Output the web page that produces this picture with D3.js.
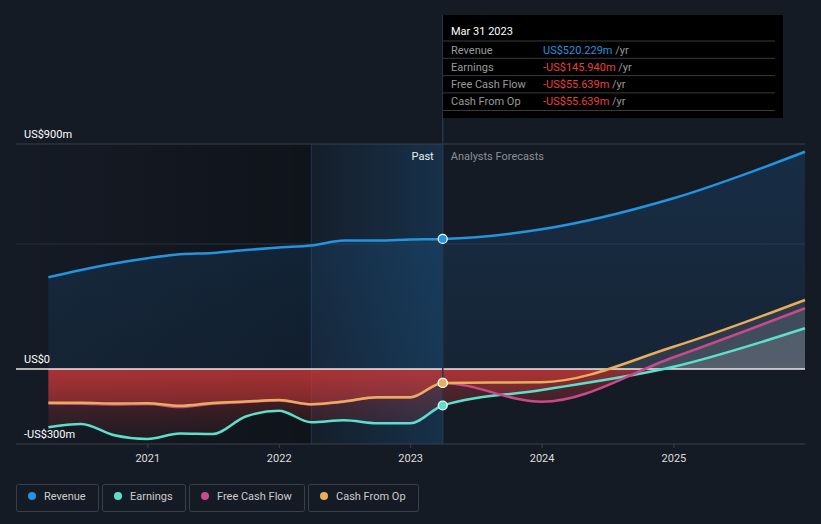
<!DOCTYPE html>
<html>
<head>
<meta charset="utf-8">
<script src="https://cdn.jsdelivr.net/npm/d3@7"></script>
<style>
  body { margin: 0; background: #151b25; }
  svg { display: block; font-family: Roboto, "Open Sans", sans-serif; }
</style>
</head>
<body>
<svg id="chart" width="821" height="524"></svg>
<script>
// quarterly past values, then analyst forecasts (US$ m)
var pastDates = ["2020-03-31","2020-06-30","2020-09-30","2020-12-31","2021-03-31","2021-06-30","2021-09-30",
                 "2021-12-31","2022-03-31","2022-06-30","2022-09-30","2022-12-31","2023-03-31"];
var revenuePast  = [367, 396, 422, 443, 459, 464, 476, 486, 494, 514, 514, 518, 520.229];
var earningsPast = [-233, -220, -265, -280, -258, -260, -190, -167, -213, -205, -217, -217, -145.94];
var fcfPast      = [-138, -139, -142, -140, -152, -139, -132, -126, -142, -131, -114, -114, -55.639];
var cfoPast      = [-135, -135, -138, -137, -147, -136, -130, -124, -141, -130, -113, -113, -55.639];

var fcDates      = ["2023-12-31","2024-12-31","2025-12-31"];
var revenueFc    = [559, 683, 869];
var earningsFc   = [-84, 9, 163];
var fcfFc        = [-131, 47, 243];
var cfoFc        = [-53, 89, 276];

var yTicks = [900, 0, -300];
var yTickLabels = ["US$900m", "US$0", "-US$300m"];
var xTickYears = [2021, 2022, 2023, 2024, 2025];

var seriesNames  = ["Revenue", "Earnings", "Free Cash Flow", "Cash From Op"];
var seriesColors = ["#2394df", "#5ce0cb", "#c94a8a", "#e8ae5c"];
var tooltipValues = ["US$520.229m", "-US$145.940m", "-US$55.639m", "-US$55.639m"];

var parse = d3.timeParse("%Y-%m-%d");
var svg = d3.select("#chart");
var defs = svg.append("defs");

var x = d3.scaleTime()
    .domain([new Date(2020, 0, 1), new Date(2025, 11, 31)])
    .range([16, 805]);
var y = d3.scaleLinear().domain([-300, 900]).range([444, 144]);

var lastPast = parse(pastDates[pastDates.length - 1]);
var yearBefore = parse("2022-03-31");

function build(past, fc) {
    var pts = pastDates.map(function (d, i) { return { date: parse(d), v: past[i] }; });
    fc.forEach(function (v, i) { pts.push({ date: parse(fcDates[i]), v: v }); });
    return pts;
}
var data = [build(revenuePast, revenueFc), build(earningsPast, earningsFc),
            build(fcfPast, fcfFc), build(cfoPast, cfoFc)];

// background shading: past (dark) and last year (blue highlight)
var gPast = defs.append("linearGradient").attr("id", "pastBg").attr("x1", 0).attr("x2", 1).attr("y1", 0).attr("y2", 0);
gPast.append("stop").attr("offset", 0).attr("stop-color", "#000").attr("stop-opacity", 0.0);
gPast.append("stop").attr("offset", 1).attr("stop-color", "#000").attr("stop-opacity", 0.28);
var gHi = defs.append("linearGradient").attr("id", "hiBg").attr("x1", 0).attr("x2", 1).attr("y1", 0).attr("y2", 0);
gHi.append("stop").attr("offset", 0).attr("stop-color", "#1a6aa8").attr("stop-opacity", 0.04);
gHi.append("stop").attr("offset", 1).attr("stop-color", "#1a6aa8").attr("stop-opacity", 0.28);

svg.append("rect").attr("x", x.range()[0]).attr("y", y(900)).attr("width", x(yearBefore) - x.range()[0])
    .attr("height", y(-300) - y(900)).attr("fill", "url(#pastBg)");
svg.append("rect").attr("x", x(yearBefore)).attr("y", y(900)).attr("width", x(lastPast) - x(yearBefore))
    .attr("height", y(-300) - y(900)).attr("fill", "url(#hiBg)");
svg.append("line").attr("x1", x(yearBefore)).attr("x2", x(yearBefore)).attr("y1", y(900)).attr("y2", y(-300))
    .attr("stroke", "#24364a").attr("stroke-width", 1);

// grid
svg.append("line").attr("x1", 16).attr("x2", 805).attr("y1", y(900)).attr("y2", y(900)).attr("stroke", "#3b414b");
svg.append("line").attr("x1", 16).attr("x2", 805).attr("y1", y(500)).attr("y2", y(500)).attr("stroke", "#2a313c");
svg.append("line").attr("x1", 16).attr("x2", 805).attr("y1", y(-300)).attr("y2", y(-300)).attr("stroke", "#3b414b");

// area gradients
var gRev = defs.append("linearGradient").attr("id", "revFill").attr("gradientUnits", "userSpaceOnUse")
    .attr("x1", 0).attr("x2", 0).attr("y1", y(900)).attr("y2", y(0));
gRev.append("stop").attr("offset", 0).attr("stop-color", "#1f78c8").attr("stop-opacity", 0.2);
gRev.append("stop").attr("offset", 1).attr("stop-color", "#1f78c8").attr("stop-opacity", 0.1);

var z = (y(0) - y(900)) / (y(-300) - y(900));
var gSign = defs.append("linearGradient").attr("id", "signFill").attr("gradientUnits", "userSpaceOnUse")
    .attr("x1", 0).attr("x2", 0).attr("y1", y(900)).attr("y2", y(-300));
gSign.append("stop").attr("offset", 0).attr("stop-color", "#ffffff").attr("stop-opacity", 0.06);
gSign.append("stop").attr("offset", z).attr("stop-color", "#ffffff").attr("stop-opacity", 0.1);
gSign.append("stop").attr("offset", z).attr("stop-color", "#d63a3a").attr("stop-opacity", 0.38);
gSign.append("stop").attr("offset", 1).attr("stop-color", "#d63a3a").attr("stop-opacity", 0.05);

var curve = d3.curveMonotoneX;
var area = d3.area().curve(curve).x(function (d) { return x(d.date); })
    .y0(y(0)).y1(function (d) { return y(d.v); });
var line = d3.line().curve(curve).x(function (d) { return x(d.date); }).y(function (d) { return y(d.v); });

svg.append("path").datum(data[0]).attr("d", area).attr("fill", "url(#revFill)");
[1, 2, 3].forEach(function (i) {
    svg.append("path").datum(data[i]).attr("d", area).attr("fill", "url(#signFill)");
});

// zero line
svg.append("line").attr("x1", 16).attr("x2", 805).attr("y1", y(0)).attr("y2", y(0))
    .attr("stroke", "#ffffff").attr("stroke-opacity", 0.9).attr("stroke-width", 1.5);

// lines, drawn back to front
[1, 2, 3, 0].forEach(function (i) {
    svg.append("path").datum(data[i]).attr("d", line).attr("fill", "none")
        .attr("stroke", seriesColors[i]).attr("stroke-width", 2.5);
});

// tooltip guide
svg.append("line").attr("x1", x(lastPast)).attr("x2", x(lastPast)).attr("y1", 15).attr("y2", y(-300))
    .attr("stroke", "#23364a").attr("stroke-width", 1.5);

// markers at last reported date
[2, 1, 3, 0].forEach(function (i) {
    svg.append("circle").attr("cx", x(lastPast)).attr("cy", y(data[i][pastDates.length - 1].v)).attr("r", 4.5)
        .attr("fill", seriesColors[i]).attr("stroke", "#fff").attr("stroke-width", 1.2);
});

// y labels
yTicks.forEach(function (t, i) {
    svg.append("text").attr("x", 24).attr("y", y(t) - 6).attr("fill", "#fff").attr("font-size", 11)
        .text(yTickLabels[i]);
});

// x axis
xTickYears.forEach(function (yr) {
    var px = x(new Date(yr, 0, 1));
    svg.append("line").attr("x1", px).attr("x2", px).attr("y1", y(-300)).attr("y2", y(-300) + 4).attr("stroke", "#3b414b");
    svg.append("text").attr("x", px).attr("y", 462).attr("text-anchor", "middle").attr("fill", "#ddd")
        .attr("font-size", 11).text(yr);
});

svg.append("text").attr("x", x(lastPast) - 9).attr("y", 160).attr("text-anchor", "end").attr("fill", "#eee")
    .attr("font-size", 11).text("Past");
svg.append("text").attr("x", x(lastPast) + 8).attr("y", 160).attr("fill", "#8a8f97")
    .attr("font-size", 11).text("Analysts Forecasts");

// tooltip box
var tip = svg.append("g").attr("transform", "translate(443,15)");
tip.append("rect").attr("width", 340).attr("height", 103).attr("fill", "#000");
tip.append("text").attr("x", 8).attr("y", 20).attr("fill", "#fff").attr("font-size", 11).text("Mar 31 2023");
seriesNames.forEach(function (n, i) {
    var ry = 26 + i * 17.3;
    tip.append("line").attr("x1", 0).attr("x2", 332).attr("y1", ry).attr("y2", ry).attr("stroke", "#3a3a3a");
    tip.append("text").attr("x", 8).attr("y", ry + 12.5).attr("fill", "#999").attr("font-size", 11).text(n);
    var t = tip.append("text").attr("x", 100).attr("y", ry + 12.5).attr("font-size", 11);
    t.append("tspan").attr("fill", i === 0 ? "#2394df" : "#e8403c").text(tooltipValues[i]);
    t.append("tspan").attr("fill", "#999").text(" /yr");
});
tip.append("line").attr("x1", 0).attr("x2", 332).attr("y1", 95.5).attr("y2", 95.5).attr("stroke", "#3a3a3a");

// legend
var lx = 16;
seriesNames.forEach(function (n, i) {
    var g = svg.append("g").attr("transform", "translate(" + lx + ",484)");
    var t = g.append("text").attr("x", 28).attr("y", 16).attr("fill", "#ccc").attr("font-size", 11).text(n);
    var w = Math.round(28 + t.node().getComputedTextLength() + 12);
    g.insert("rect", "text").attr("x", 0.5).attr("y", 0.5).attr("width", w).attr("height", 27).attr("rx", 2)
        .attr("fill", "none").attr("stroke", "#3a404a");
    g.append("circle").attr("cx", 16).attr("cy", 12).attr("r", 4).attr("fill", seriesColors[i]);
    lx += w + 4;
});
</script>
</body>
</html>
